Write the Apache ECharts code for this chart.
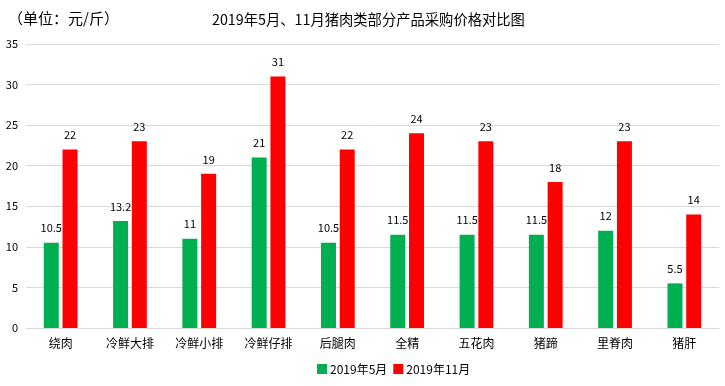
<!DOCTYPE html>
<html>
<head>
<meta charset="utf-8">
<script src="https://cdn.jsdelivr.net/npm/echarts@6/dist/echarts.min.js"></script>
<style>html,body{margin:0;padding:0;background:#fff;}#c{width:725px;height:386px;}</style>
</head>
<body>
<div id="c"></div>
<script>
const categories = ['绕肉','冷鲜大排','冷鲜小排','冷鲜仔排','后腿肉','全精','五花肉','猪蹄','里脊肉','猪肝'];
const may = [10.5, 13.2, 11, 21, 10.5, 11.5, 11.5, 11.5, 12, 5.5];
const nov = [22, 23, 19, 31, 22, 24, 23, 18, 23, 14];
const seriesNames = ['2019年5月', '2019年11月'];
const yTicks = {min: 0, max: 35, interval: 5};

const font = '"Noto Sans CJK SC", "Microsoft YaHei", sans-serif';
const chart = echarts.init(document.getElementById('c'), null, {renderer: 'canvas'});
chart.setOption({
  animation: false,
  backgroundColor: '#fff',
  textStyle: {fontFamily: font},
  title: [
    {text: '2019年5月、11月猪肉类部分产品采购价格对比图', left: 207, top: 7,
     textStyle: {fontSize: 14.3, fontWeight: 'normal', color: '#000', fontFamily: font}},
    {text: '（单位：元/斤）', left: 3, top: 6,
     textStyle: {fontSize: 15, fontWeight: 'normal', color: '#000', fontFamily: font}}
  ],
  legend: {
    bottom: 6, left: 312, itemWidth: 10, itemHeight: 10, itemGap: 6,
    icon: 'rect',
    textStyle: {fontSize: 12, color: '#000', fontFamily: font, padding: [0,0,0,-2]},
    data: seriesNames
  },
  grid: {left: 26, right: 6, top: 44, bottom: 58, containLabel: false},
  xAxis: {
    type: 'category', data: categories,
    axisLine: {lineStyle: {color: '#d9d9d9'}},
    axisTick: {show: false},
    axisLabel: {fontSize: 12, color: '#000', margin: 9, fontFamily: font}
  },
  yAxis: {
    type: 'value', min: yTicks.min, max: yTicks.max, interval: yTicks.interval,
    axisLine: {show: false}, axisTick: {show: false},
    axisLabel: {fontSize: 11, color: '#000', margin: 8, fontFamily: font},
    splitLine: {lineStyle: {color: '#d9d9d9'}}
  },
  series: [
    {name: seriesNames[0], type: 'bar', data: may, barWidth: 15, barGap: '25%',
     itemStyle: {color: '#00B050'},
     label: {show: true, position: 'top', distance: 9, fontSize: 11, color: '#000', fontFamily: font}},
    {name: seriesNames[1], type: 'bar', data: nov, barWidth: 15, barGap: '25%',
     itemStyle: {color: '#FF0000'},
     label: {show: true, position: 'top', distance: 9, fontSize: 11, color: '#000', fontFamily: font}}
  ]
});
</script>
</body>
</html>
